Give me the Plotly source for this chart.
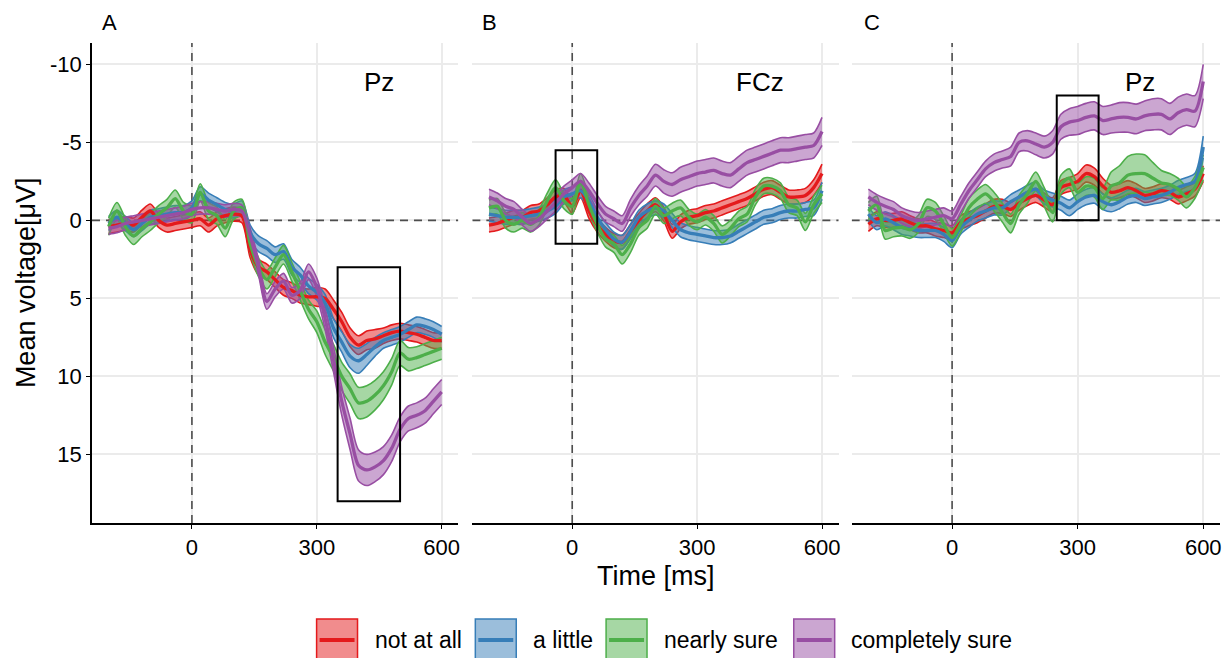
import plotly.graph_objects as go

# ---------------- data ----------------
time_ms = [-200, -180, -160, -140, -120, -100, -80, -60, -40, -20, 0, 20, 40, 60, 80, 100,
           120, 140, 160, 180, 200, 220, 240, 260, 280, 300, 320, 340, 360, 380, 400, 420,
           440, 460, 480, 500, 520, 540, 560, 580, 600]

conditions = ["not at all", "a little", "nearly sure", "completely sure"]
panel_letters = ["A", "B", "C"]
electrodes = ["Pz", "FCz", "Pz"]
x_ticks = [0, 300, 600]
y_ticks = [-10, -5, 0, 5, 10, 15]

# Panel A (Pz) mean voltages
red_A = [0.4, 0.3, 0.2, 0.3, -0.2, -0.6, 0.0, 0.3, 0.2, 0.1, 0.0, -0.1, 0.3, -0.1, -0.3, -0.4,
         -0.3, 1.9, 3.0, 3.3, 3.8, 4.3, 4.5, 4.8, 4.9, 4.9, 5.0, 5.7, 6.5, 7.5, 8.0, 7.7,
         7.6, 7.4, 7.2, 7.1, 7.2, 7.3, 7.5, 7.7, 7.7]
blue_A = [0.2, -0.2, 0.2, 0.6, 0.2, -0.2, -0.3, -0.4, -0.5, -0.5, -0.8, -1.7, -1.3, -1.0, -0.7, -0.6,
          -0.8, 0.8, 1.5, 1.8, 2.2, 2.0, 3.0, 3.5, 4.2, 4.6, 5.3, 6.9, 7.8, 8.7, 9.0, 8.6,
          8.1, 7.7, 7.5, 7.3, 7.0, 6.7, 6.8, 7.0, 7.3]
green_A = [0.4, -0.6, 0.4, 1.0, 0.5, 0.1, -0.4, -0.8, -1.4, -0.6, -0.4, -1.8, -0.6, -0.3, 0.5, -0.6,
           -0.8, 1.5, 3.0, 3.8, 3.0, 2.2, 3.3, 4.5, 5.7, 6.5, 7.8, 8.8, 10.0, 10.8, 11.7, 11.6,
           11.2, 10.6, 9.7, 8.5, 8.9, 8.8, 8.6, 8.4, 8.2]
purple_A = [0.5, 0.4, 0.2, 0.1, 0.0, -0.1, -0.2, -0.3, -0.4, -0.5, -0.7, -0.8, -0.8, -0.7, -0.6, -0.7,
            -0.6, 1.0, 3.0, 5.2, 4.4, 3.9, 4.8, 4.5, 3.3, 4.3, 6.3, 8.9, 11.6, 13.7, 15.7, 16.0,
            15.8, 15.4, 14.6, 13.4, 12.7, 12.5, 12.2, 11.6, 11.0]

# Panel B (FCz) mean voltages
red_B = [0.3, 0.2, 0.0, -0.2, -0.2, -0.5, -0.6, -1.0, -1.5, -1.6, -0.9, -1.9, -0.6, 0.3, 0.9, 1.3,
         1.4, 0.7, 0.0, -0.6, -1.0, -0.4, 0.7, 0.1, -0.2, -0.3, -0.5, -0.6, -0.8, -1.0, -1.2, -1.4,
         -1.7, -2.0, -2.1, -1.8, -1.5, -1.5, -1.6, -2.1, -3.0]
blue_B = [-0.4, -0.3, -0.2, -0.2, -0.2, -0.3, -0.4, -0.6, -0.9, -1.5, -1.7, -1.9, -1.25, -0.2, 0.6, 1.2,
          1.4, 0.7, -0.2, -0.6, -0.8, -0.6, 0.0, 0.6, 0.8, 0.9, 1.0, 1.1, 1.1, 1.0, 0.7, 0.4,
          0.1, -0.2, -0.3, -0.5, -0.6, -0.6, -0.7, -0.8, -1.9]
green_B = [-0.8, -0.9, 0.0, 0.25, 0.0, 0.25, -0.2, -1.25, -2.1, -1.25, -0.9, -2.5, -1.0, 0.25, 1.2, 1.5,
           2.2, 1.5, 0.45, 0.0, -0.9, -0.3, -0.6, -0.8, -0.2, 0.1, -0.2, 0.2, 0.9, 0.5, -0.1, -0.4,
           -1.5, -2.2, -2.2, -1.9, -1.0, -0.8, 0.1, -1.0, -1.7]
purple_B = [-1.5, -1.25, -0.9, -0.7, -0.2, 0.2, -0.1, -0.6, -1.1, -1.7, -2.1, -2.5, -1.9, -1.1, -0.4, -0.1,
            0.2, -0.8, -1.6, -2.2, -2.9, -2.5, -2.3, -2.6, -2.8, -3.0, -3.1, -3.2, -3.0, -2.9, -3.3, -3.7,
            -3.9, -4.1, -4.3, -4.5, -4.5, -4.6, -4.7, -4.8, -5.7]

# Panel C (Pz) mean voltages
red_C = [0.25, -0.1, 0.0, 0.0, -0.1, 0.15, 0.35, 0.35, 0.55, 0.65, 0.8, 0.15, -0.1, -0.3, -0.6, -0.9,
         -0.9, -0.7, -1.1, -1.4, -1.6, -1.3, -1.0, -2.1, -2.3, -2.5, -3.0, -2.8, -2.2, -1.8, -1.9, -2.1,
         -1.9, -1.6, -1.7, -1.9, -1.8, -1.5, -1.7, -2.0, -3.0]
blue_C = [-0.4, 0.15, -0.1, 0.15, 0.45, 0.55, 0.65, 0.65, 0.65, 0.9, 1.3, 0.45, 0.0, -0.4, -0.6, -0.8,
          -0.8, -1.2, -1.5, -1.8, -2.0, -1.5, -1.3, -1.1, -0.8, -1.2, -1.5, -1.6, -1.2, -1.0, -1.2, -1.5,
          -1.6, -1.4, -1.5, -1.6, -1.8, -2.1, -2.3, -2.5, -4.7]
green_C = [-0.6, -1.0, 0.65, 0.5, 0.45, 0.6, 0.2, -0.8, -0.6, 0.25, 1.1, 0.25, -0.8, -1.35, -1.7, -1.2,
           -0.5, 0.2, -1.0, -1.7, -2.5, -1.5, -0.5, -2.3, -2.7, -1.8, -2.2, -2.1, -1.4, -2.2, -2.4, -2.9,
           -3.0, -3.0, -2.7, -2.4, -2.3, -2.0, -1.5, -2.1, -3.4]
purple_C = [-1.5, -1.15, -0.9, -0.7, -0.3, -0.1, 0.0, -0.1, -0.2, -0.3, -0.1, -1.0, -1.9, -2.6, -3.3, -3.7,
            -3.9, -4.1, -5.0, -5.1, -4.9, -4.7, -5.0, -6.0, -6.3, -6.4, -6.6, -6.7, -6.4, -6.5, -6.6, -6.6,
            -6.5, -6.7, -6.8, -6.8, -6.5, -6.9, -7.1, -7.0, -8.9]

# Standard errors (ribbon half-widths)
se_red_A = [0.45, 0.45, 0.45, 0.45, 0.45, 0.45, 0.45, 0.45, 0.45, 0.45, 0.45, 0.45, 0.45, 0.45, 0.45, 0.45,
            0.45, 0.5, 0.5, 0.5, 0.5, 0.5, 0.5, 0.5, 0.5, 0.6, 0.6, 0.6, 0.6, 0.6, 0.6, 0.6,
            0.6, 0.5, 0.5, 0.5, 0.5, 0.5, 0.5, 0.5, 0.5]
se_blue_A = [0.45, 0.45, 0.45, 0.45, 0.45, 0.45, 0.45, 0.45, 0.45, 0.45, 0.45, 0.45, 0.45, 0.45, 0.45, 0.45,
             0.45, 0.5, 0.5, 0.5, 0.5, 0.5, 0.5, 0.5, 0.5, 0.5, 0.55, 0.6, 0.65, 0.75, 0.8, 0.7,
             0.6, 0.5, 0.5, 0.5, 0.5, 0.5, 0.5, 0.5, 0.5]
se_green_A = [0.55, 0.55, 0.55, 0.55, 0.55, 0.55, 0.55, 0.55, 0.55, 0.55, 0.55, 0.55, 0.55, 0.55, 0.55, 0.55,
              0.55, 0.6, 0.6, 0.6, 0.6, 0.6, 0.6, 0.6, 0.6, 0.7, 0.8, 0.85, 0.9, 0.95, 1.0, 1.0,
              0.95, 0.9, 0.85, 0.8, 0.75, 0.7, 0.7, 0.7, 0.7]
se_purple_A = [0.4, 0.4, 0.4, 0.4, 0.4, 0.4, 0.4, 0.4, 0.4, 0.4, 0.4, 0.4, 0.4, 0.4, 0.4, 0.4,
               0.4, 0.5, 0.5, 0.5, 0.5, 0.5, 0.5, 0.5, 0.5, 0.6, 0.7, 0.8, 0.9, 1.0, 1.0, 1.0,
               0.95, 0.9, 0.85, 0.8, 0.8, 0.8, 0.8, 0.8, 0.8]

se_red_B = [0.45, 0.45, 0.45, 0.45, 0.45, 0.45, 0.45, 0.45, 0.45, 0.45, 0.45, 0.45, 0.45, 0.45, 0.45, 0.45,
            0.45, 0.45, 0.45, 0.45, 0.45, 0.45, 0.45, 0.45, 0.45, 0.45, 0.45, 0.45, 0.45, 0.45, 0.45, 0.45,
            0.45, 0.45, 0.45, 0.45, 0.45, 0.45, 0.45, 0.5, 0.6]
se_blue_B = [0.45, 0.45, 0.45, 0.45, 0.45, 0.45, 0.45, 0.45, 0.45, 0.45, 0.45, 0.45, 0.45, 0.45, 0.45, 0.45,
             0.45, 0.45, 0.45, 0.45, 0.45, 0.45, 0.45, 0.45, 0.45, 0.45, 0.45, 0.45, 0.45, 0.45, 0.45, 0.45,
             0.45, 0.45, 0.45, 0.45, 0.45, 0.45, 0.45, 0.5, 0.55]
se_green_B = [0.5, 0.5, 0.5, 0.5, 0.5, 0.5, 0.5, 0.5, 0.5, 0.5, 0.5, 0.5, 0.5, 0.5, 0.5, 0.55,
              0.6, 0.55, 0.5, 0.5, 0.5, 0.5, 0.5, 0.5, 0.5, 0.5, 0.5, 0.5, 0.55, 0.5, 0.5, 0.5,
              0.5, 0.5, 0.5, 0.5, 0.5, 0.5, 0.55, 0.55, 0.55]
se_purple_B = [0.5, 0.5, 0.5, 0.5, 0.5, 0.5, 0.5, 0.5, 0.5, 0.5, 0.5, 0.5, 0.5, 0.5, 0.5, 0.5,
               0.5, 0.55, 0.6, 0.65, 0.7, 0.75, 0.75, 0.8, 0.8, 0.8, 0.8, 0.8, 0.8, 0.8, 0.8, 0.8,
               0.8, 0.8, 0.8, 0.8, 0.8, 0.8, 0.8, 0.8, 0.9]

se_red_C = [0.45, 0.45, 0.45, 0.45, 0.45, 0.45, 0.45, 0.45, 0.45, 0.45, 0.45, 0.45, 0.45, 0.45, 0.45, 0.45,
            0.45, 0.45, 0.45, 0.45, 0.45, 0.45, 0.45, 0.45, 0.45, 0.5, 0.55, 0.55, 0.5, 0.45, 0.45, 0.45,
            0.45, 0.45, 0.45, 0.45, 0.45, 0.45, 0.45, 0.45, 0.5]
se_blue_C = [0.45, 0.45, 0.45, 0.45, 0.45, 0.45, 0.45, 0.45, 0.45, 0.45, 0.45, 0.45, 0.45, 0.45, 0.45, 0.45,
             0.45, 0.45, 0.45, 0.45, 0.45, 0.45, 0.45, 0.45, 0.5, 0.5, 0.5, 0.5, 0.5, 0.45, 0.45, 0.45,
             0.45, 0.45, 0.45, 0.45, 0.45, 0.45, 0.45, 0.5, 0.7]
se_green_C = [0.55, 0.55, 0.55, 0.55, 0.55, 0.55, 0.55, 0.55, 0.55, 0.55, 0.55, 0.55, 0.6, 0.6, 0.6, 0.6,
              0.6, 0.6, 0.6, 0.6, 0.6, 0.6, 0.6, 0.6, 0.6, 0.6, 0.6, 0.6, 0.7, 0.9, 1.1, 1.2,
              1.25, 1.2, 1.0, 0.8, 0.7, 0.7, 0.7, 0.7, 0.8]
se_purple_C = [0.5, 0.5, 0.5, 0.5, 0.5, 0.5, 0.5, 0.5, 0.5, 0.5, 0.5, 0.5, 0.5, 0.5, 0.5, 0.55,
               0.55, 0.6, 0.6, 0.65, 0.7, 0.7, 0.75, 0.8, 0.85, 0.9, 0.9, 0.9, 0.9, 0.9, 0.95, 0.95,
               0.95, 0.95, 1.0, 1.0, 1.0, 1.0, 1.0, 1.0, 1.1]

# Analysis windows marked with black rectangles: (t0, t1, v0, v1)
windows = [(350, 500, 3, 18), (-40, 60, -4.5, 1.5), (250, 350, -8, 0)]

means = [[red_A, blue_A, green_A, purple_A],
         [red_B, blue_B, green_B, purple_B],
         [red_C, blue_C, green_C, purple_C]]
ses = [[se_red_A, se_blue_A, se_green_A, se_purple_A],
       [se_red_B, se_blue_B, se_green_B, se_purple_B],
       [se_red_C, se_blue_C, se_green_C, se_purple_C]]

# ---------------- style ----------------
colors = ["#E41A1C", "#377EB8", "#4DAF4A", "#984EA3"]
fills = ["rgba(228,26,28,0.5)", "rgba(55,126,184,0.5)", "rgba(77,175,74,0.5)", "rgba(152,78,163,0.5)"]
FONT = "Arial, 'Liberation Sans', Helvetica, sans-serif"
GRID = "#EBEBEB"
DASH = "#4D4D4D"

W, H = 1231, 658
ML, MR, MT, MB = 92, 9, 43, 135
PW = W - ML - MR
PH = H - MT - MB


def pxx(px):
    return (px - ML) / PW


def pxy(py):
    return (H - MB - py) / PH


panel_px = [(92, 459), (473, 840), (853, 1222)]
x_range = [-240, 640]
y_range = [19.4, -11.37]

fig = go.Figure()

for p in range(3):
    xa = "x" if p == 0 else f"x{p + 1}"
    ya = "y" if p == 0 else f"y{p + 1}"
    # dashed reference lines (x = 0 and y = 0), drawn beneath the data
    fig.add_trace(go.Scatter(x=[0, 0], y=[y_range[0], y_range[1]], xaxis=xa, yaxis=ya, mode="lines",
                             line=dict(color=DASH, width=1.6, dash="8px,6px"),
                             showlegend=False, hoverinfo="skip", cliponaxis=True))
    fig.add_trace(go.Scatter(x=[x_range[0], x_range[1]], y=[0, 0], xaxis=xa, yaxis=ya, mode="lines",
                             line=dict(color=DASH, width=1.6, dash="8px,6px"),
                             showlegend=False, hoverinfo="skip", cliponaxis=True))
    # ribbons
    for c in range(4):
        m = means[p][c]
        s = ses[p][c]
        upper = [mi - si for mi, si in zip(m, s)]
        lower = [mi + si for mi, si in zip(m, s)]
        fig.add_trace(go.Scatter(x=time_ms, y=upper, xaxis=xa, yaxis=ya, mode="lines",
                                 line=dict(color=colors[c], width=1.6, shape="spline", smoothing=0.8),
                                 showlegend=False, hoverinfo="skip"))
        fig.add_trace(go.Scatter(x=time_ms, y=lower, xaxis=xa, yaxis=ya, mode="lines",
                                 fill="tonexty", fillcolor=fills[c],
                                 line=dict(color=colors[c], width=1.6, shape="spline", smoothing=0.8),
                                 showlegend=False, hoverinfo="skip"))
    # mean lines
    for c in range(4):
        fig.add_trace(go.Scatter(x=time_ms, y=means[p][c], xaxis=xa, yaxis=ya, mode="lines",
                                 name=conditions[c],
                                 line=dict(color=colors[c], width=3.3, shape="spline", smoothing=0.8),
                                 showlegend=False))

layout = dict(width=W, height=H, margin=dict(l=ML, r=MR, t=MT, b=MB),
              paper_bgcolor="white", plot_bgcolor="white",
              font=dict(family=FONT, color="black"), showlegend=False)

shapes = []
annotations = []
for p in range(3):
    sfx = "" if p == 0 else str(p + 1)
    d0, d1 = panel_px[p]
    layout["xaxis" + sfx] = dict(domain=[pxx(d0), pxx(d1)], range=x_range, anchor="y" + sfx,
                                 tickvals=x_ticks, ticktext=[str(v) for v in x_ticks],
                                 showgrid=True, gridcolor=GRID, gridwidth=1.5, zeroline=False,
                                 showline=True, linecolor="black", linewidth=1.5,
                                 ticks="outside", ticklen=4, tickwidth=1.2, tickcolor="black",
                                 tickfont=dict(size=22, color="black", family=FONT))
    layout["yaxis" + sfx] = dict(domain=[0, 1], range=y_range, anchor="x" + sfx,
                                 tickvals=y_ticks, ticktext=[str(v) for v in y_ticks],
                                 showgrid=True, gridcolor=GRID, gridwidth=1.5, zeroline=False,
                                 showline=(p == 0), linecolor="black", linewidth=1.5,
                                 ticks="outside" if p == 0 else "", ticklen=4, tickwidth=1.2,
                                 tickcolor="black", showticklabels=(p == 0),
                                 tickfont=dict(size=22, color="black", family=FONT))
    xr = "x" + sfx
    yr = "y" + sfx
    # analysis window
    t0, t1, v0, v1 = windows[p]
    shapes.append(dict(type="rect", xref=xr, yref=yr, x0=t0, x1=t1, y0=v0, y1=v1,
                       line=dict(color="black", width=2), fillcolor="rgba(0,0,0,0)", layer="above"))
    # electrode label
    annotations.append(dict(x=450, y=-8.9, xref=xr, yref=yr, text=electrodes[p], showarrow=False,
                            xanchor="center", yanchor="middle", font=dict(size=26, color="black")))

# panel letters
for px, letter in zip([110, 490, 873], panel_letters):
    annotations.append(dict(x=pxx(px), y=pxy(23), xref="paper", yref="paper", text=letter,
                            showarrow=False, xanchor="center", yanchor="middle",
                            font=dict(size=22, color="black")))

# axis titles
annotations.append(dict(x=pxx(26), y=pxy(283), xref="paper", yref="paper", text="Mean voltage[μV]",
                        textangle=-90, showarrow=False, xanchor="center", yanchor="middle",
                        font=dict(size=27, color="black")))
annotations.append(dict(x=pxx(657), y=pxy(576), xref="paper", yref="paper", text="Time [ms]",
                        showarrow=False, xanchor="center", yanchor="middle",
                        font=dict(size=27, color="black")))

# custom legend (ggplot-style keys)
key_left = [317, 476, 607, 795]
text_left = [373, 532, 663, 850]
key_w, key_top, key_bot, key_mid = 41, 619, 661, 640
for c in range(4):
    k0 = key_left[c]
    shapes.append(dict(type="rect", xref="paper", yref="paper", x0=pxx(k0), x1=pxx(k0 + key_w),
                       y0=pxy(key_bot), y1=pxy(key_top), fillcolor=fills[c],
                       line=dict(color=colors[c], width=1.5), layer="above"))
    shapes.append(dict(type="line", xref="paper", yref="paper", x0=pxx(k0 + 3), x1=pxx(k0 + key_w - 3),
                       y0=pxy(key_mid), y1=pxy(key_mid), line=dict(color=colors[c], width=4),
                       layer="above"))
    annotations.append(dict(x=pxx(text_left[c]), y=pxy(key_mid), xref="paper", yref="paper",
                            text=conditions[c], showarrow=False, xanchor="left", yanchor="middle",
                            font=dict(size=23, color="black")))

layout["shapes"] = shapes
layout["annotations"] = annotations
fig.update_layout(**layout)

fig.write_html("out.html")
